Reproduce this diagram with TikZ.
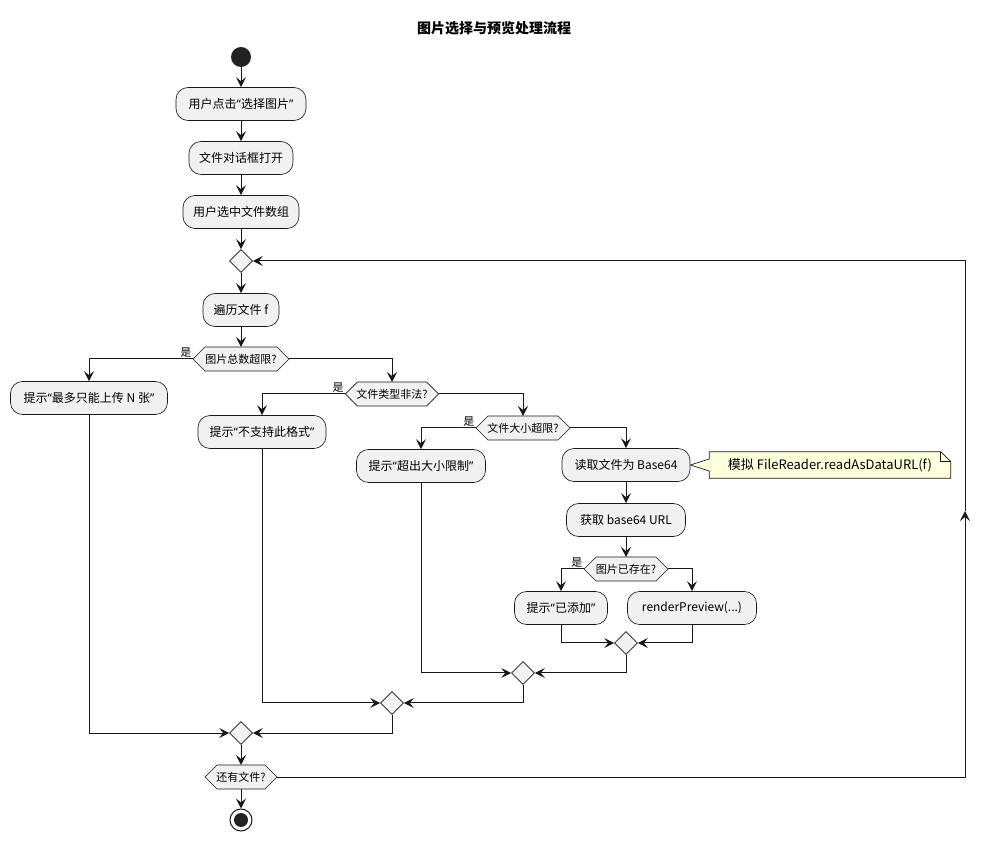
\documentclass[tikz,border=0pt]{standalone}
\usepackage{fontspec}
\setmainfont{Noto Sans CJK SC}
\newfontfamily\quotefont{Noto Sans}
\newcommand{\qopen}{{\quotefont “}}
\newcommand{\qclose}{{\quotefont ”}}
\usetikzlibrary{shapes.geometric, arrows.meta, backgrounds}

% Define colors
\definecolor{ink}{HTML}{181818}
\definecolor{boxfill}{HTML}{F1F1F1}
\definecolor{notefill}{HTML}{FEFFDD}
\definecolor{dotfill}{HTML}{222222}

\tikzset{
  act/.style={rectangle, rounded corners=9pt, draw=ink, line width=0.5pt, fill=boxfill,
    minimum height=24.75pt, inner sep=0pt, font=\fontsize{9}{11}\selectfont},
  hexnode/.style={draw=none, minimum height=18pt, inner sep=0pt, outer sep=0pt,
    font=\fontsize{8.25}{10}\selectfont},
  merge/.style={diamond, draw=ink, line width=0.5pt, fill=boxfill,
    minimum width=17.25pt, minimum height=17.25pt, inner sep=0pt},
  startdot/.style={circle, fill=dotfill, minimum size=15pt, inner sep=0pt},
  endring/.style={circle, draw=ink, line width=0.75pt, fill=white, minimum size=16.5pt, inner sep=0pt,
    path picture={\fill[dotfill] (path picture bounding box.center) circle (5.25pt);}},
  flow/.style={-{Stealth[length=7.5pt, width=7.5pt, inset=3pt]}, line width=0.75pt, draw=ink},
  yeslbl/.style={font=\fontsize{8.25}{10}\selectfont, inner sep=1pt, anchor=south east},
  memotext/.style={draw=none, minimum width=180.75pt, minimum height=19.5pt, inner sep=0pt,
    font=\fontsize{9.75}{12}\selectfont}
}

\begin{document}
\begin{tikzpicture}[x=0.75pt, y=-0.75pt]
    \useasboundingbox (0,0) rectangle (990,841);
    \begin{scope}[on background layer]
        \fill[white] (0,0) rectangle (990,841);
    \end{scope}

    % Title
    \node[font=\bfseries\fontsize{10.5}{12}\selectfont] (title) at (494,28) {图片选择与预览处理流程};

    % Start and set-up steps
    \node[startdot] (start) at (241,57) {};
    \node[act, minimum width=97.5pt] (click) at (241,104) {用户点击\qopen 选择图片\qclose};
    \node[act, minimum width=78pt] (dialog) at (241,158) {文件对话框打开};
    \node[act, minimum width=87pt] (files) at (241,212) {用户选中文件数组};
    \node[merge] (mloop) at (241,261) {};
    \node[act, minimum width=57pt] (each) at (241,310) {遍历文件 f};

    % Checks
    \node[hexnode, minimum width=72pt] (hcount) at (241,359) {图片总数超限?};
    \node[act, minimum width=117.75pt] (tmax) at (89,398) {提示\qopen 最多只能上传 N 张\qclose};
    \node[hexnode, minimum width=70pt] (htype) at (392,394) {文件类型非法?};
    \node[act, minimum width=96pt] (ttype) at (262,432) {提示\qopen 不支持此格式\qclose};
    \node[hexnode, minimum width=70.5pt] (hsize) at (523,428) {文件大小超限?};
    \node[act, minimum width=96.75pt] (tsize) at (421,466) {提示\qopen 超出大小限制\qclose};
    \node[act, minimum width=96pt] (read) at (626,465) {读取文件为 Base64};
    \node[act, minimum width=89.25pt] (url) at (626,520) {获取 base64 URL};
    \node[hexnode, minimum width=63pt] (hdup) at (626,569) {图片已存在?};
    \node[act, minimum width=69.75pt] (tdup) at (561,608) {提示\qopen 已添加\qclose};
    \node[act, minimum width=96.75pt] (render) at (692,608) {renderPreview(...)};

    % Merges and end
    \node[merge] (m1) at (626,643) {};
    \node[merge] (m2) at (523,673) {};
    \node[merge] (m3) at (392,703) {};
    \node[merge] (m4) at (241,733) {};
    \node[hexnode, minimum width=54pt] (hmore) at (241,777) {还有文件?};
    \node[endring] (stop) at (241,820) {};

    % Note
    \node[memotext] (memo) at (830,465) {模拟 FileReader.readAsDataURL(f)};

    % Hexagons and note outline behind the texts
    \begin{scope}[on background layer]
        \foreach \h in {hcount, htype, hsize, hdup, hmore}
            \draw[ink, line width=0.5pt, fill=boxfill] (\h.west) -- ([xshift=9pt]\h.north west)
                -- ([xshift=-9pt]\h.north east) -- (\h.east) -- ([xshift=-9pt]\h.south east)
                -- ([xshift=9pt]\h.south west) -- cycle;
        \draw[ink, line width=0.5pt, fill=notefill] (memo.north west) -- ([xshift=-7.5pt]memo.north east)
            -- ([yshift=-7.5pt]memo.north east) -- (memo.south east) -- (memo.south west)
            -- ([yshift=-4.5pt]memo.west) -- (read.east) -- ([yshift=4.5pt]memo.west) -- cycle;
        \draw[ink, line width=0.5pt] ([xshift=-7.5pt]memo.north east) |- ([yshift=-7.5pt]memo.north east);
    \end{scope}

    % Main line
    \draw[flow] (start) -- (click);
    \draw[flow] (click) -- (dialog);
    \draw[flow] (dialog) -- (files);
    \draw[flow] (files) -- (mloop);
    \draw[flow] (mloop) -- (each);
    \draw[flow] (each) -- (hcount);

    % Branches
    \draw[flow] (hcount.west) -| (tmax.north);
    \draw[flow] (hcount.east) -| (htype.north);
    \draw[flow] (htype.west) -| (ttype.north);
    \draw[flow] (htype.east) -| (hsize.north);
    \draw[flow] (hsize.west) -| (tsize.north);
    \draw[flow] (hsize.east) -| (read.north);
    \draw[flow] (read) -- (url);
    \draw[flow] (url) -- (hdup);
    \draw[flow] (hdup.west) -| (tdup.north);
    \draw[flow] (hdup.east) -| (render.north);

    % Yes labels
    \node[yeslbl] (ycount) at (hcount.west) {是};
    \node[yeslbl] (ytype) at (htype.west) {是};
    \node[yeslbl] (ysize) at (hsize.west) {是};
    \node[yeslbl] (ydup) at (hdup.west) {是};

    % Joins
    \draw[flow] (tdup.south) |- (m1.west);
    \draw[flow] (render.south) |- (m1.east);
    \draw[flow] (tsize.south) |- (m2.west);
    \draw[flow] (m1.south) |- (m2.east);
    \draw[flow] (ttype.south) |- (m3.west);
    \draw[flow] (m2.south) |- (m3.east);
    \draw[flow] (tmax.south) |- (m4.west);
    \draw[flow] (m3.south) |- (m4.east);
    \draw[flow] (m4) -- (hmore);
    \draw[flow] (hmore) -- (stop);

    % Loop back
    \coordinate (loopup) at (965,511);
    \draw[flow] (hmore.east) -| (loopup);
    \draw[flow] (loopup) |- (mloop.east);
\end{tikzpicture}
\end{document}
